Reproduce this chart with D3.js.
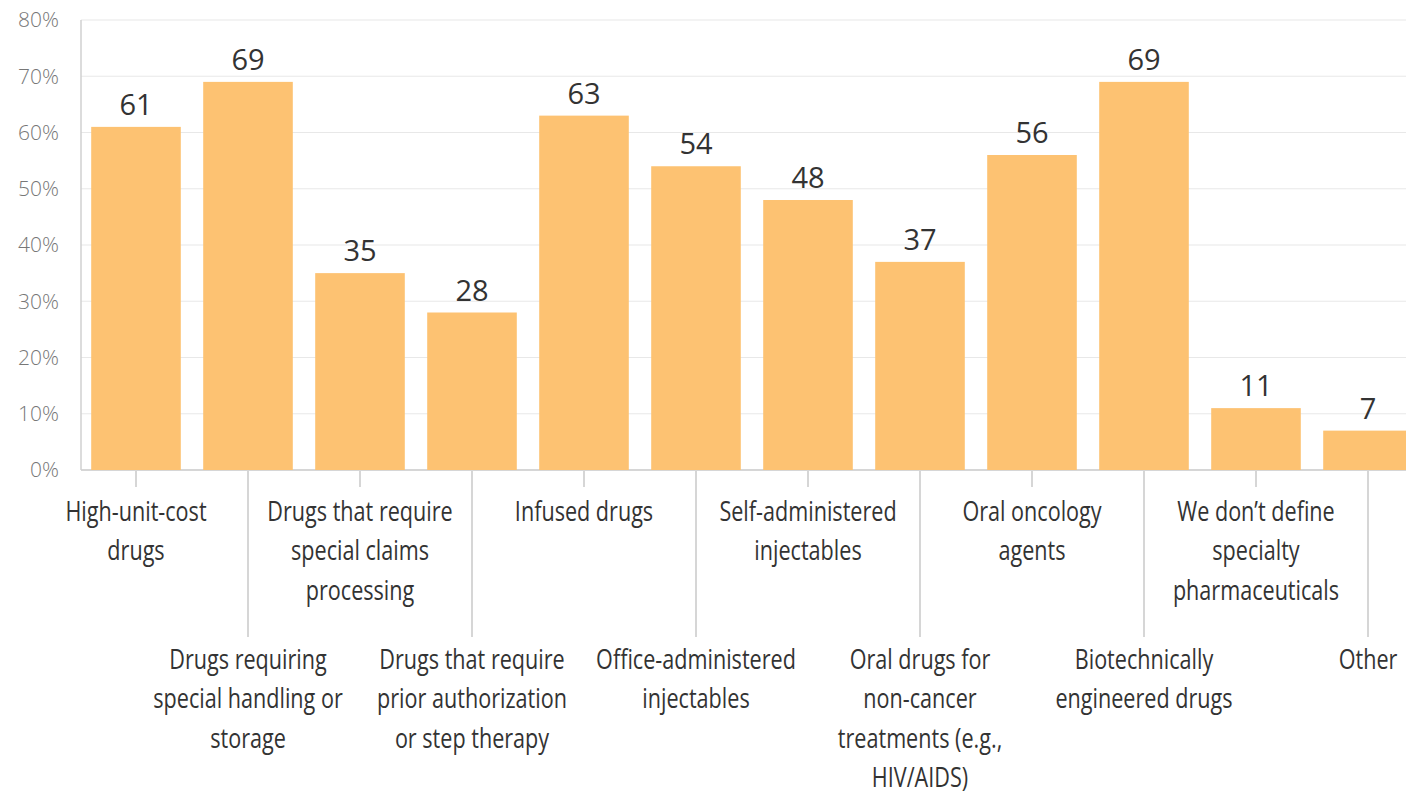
<!DOCTYPE html>
<html>
<head>
<meta charset="utf-8">
<script src="https://cdn.jsdelivr.net/npm/d3@7"></script>
<style>
  body { margin: 0; background: #fff; }
  svg { display: block; }
</style>
</head>
<body>
<div id="chart"></div>
<script>
// chart data
var categories = [
  ["High-unit-cost", "drugs"],
  ["Drugs requiring", "special handling or", "storage"],
  ["Drugs that require", "special claims", "processing"],
  ["Drugs that require", "prior authorization", "or step therapy"],
  ["Infused drugs"],
  ["Office-administered", "injectables"],
  ["Self-administered", "injectables"],
  ["Oral drugs for", "non-cancer", "treatments (e.g.,", "HIV/AIDS)"],
  ["Oral oncology", "agents"],
  ["Biotechnically", "engineered drugs"],
  ["We don\u2019t define", "specialty", "pharmaceuticals"],
  ["Other"]
];
var values = [61, 69, 35, 28, 63, 54, 48, 37, 56, 69, 11, 7];
var yTicks = [0, 10, 20, 30, 40, 50, 60, 70, 80];

var width = 1406, height = 796;
var margin = {top: 20, left: 81, bottom: 326};
var plotBottom = height - margin.bottom;

var svg = d3.select("#chart").append("svg")
  .attr("width", width)
  .attr("height", height);

var x = d3.scaleBand()
  .domain(d3.range(values.length))
  .range([80, 1424])
  .paddingInner(0.2)
  .paddingOuter(0.1);

var y = d3.scaleLinear()
  .domain([0, 80])
  .range([plotBottom, margin.top]);

// grid lines
svg.append("g")
  .selectAll("line")
  .data(yTicks)
  .enter().append("line")
  .attr("x1", margin.left)
  .attr("x2", width)
  .attr("y1", function(d) { return y(d); })
  .attr("y2", function(d) { return y(d); })
  .attr("stroke", function(d) { return d == 0 ? "#c8c8c8" : "#e8e8e8"; })
  .attr("stroke-width", function(d) { return d == 0 ? 1.5 : 1.2; });

// left axis line
svg.append("line")
  .attr("x1", margin.left).attr("x2", margin.left)
  .attr("y1", y(80)).attr("y2", y(0))
  .attr("stroke", "#d0d0d0")
  .attr("stroke-width", 1.5);

// y labels
svg.append("g")
  .selectAll("text")
  .data(yTicks)
  .enter().append("text")
  .attr("x", 59)
  .attr("y", function(d) { return y(d); })
  .attr("dy", "0.35em")
  .attr("text-anchor", "end")
  .attr("font-family", "'Open Sans', 'Noto Sans', sans-serif")
  .attr("font-weight", 300)
  .attr("font-size", 21)
  .attr("fill", "#777")
  .text(function(d) { return d + "%"; });

// bars
svg.append("g")
  .selectAll("rect")
  .data(values)
  .enter().append("rect")
  .attr("x", function(d, i) { return x(i); })
  .attr("y", function(d) { return y(d); })
  .attr("width", x.bandwidth())
  .attr("height", function(d) { return y(0) - y(d); })
  .attr("fill", "#fdc272");

// value labels
svg.append("g")
  .selectAll("text")
  .data(values)
  .enter().append("text")
  .attr("x", function(d, i) { return x(i) + x.bandwidth() / 2; })
  .attr("y", function(d) { return y(d) - 12; })
  .attr("text-anchor", "middle")
  .attr("font-family", "'Open Sans', 'Noto Sans', sans-serif")
  .attr("font-size", 29)
  .attr("fill", "#333")
  .text(function(d) { return d; });

// category labels, alternating rows with leader lines
var lineH = 39.5;
var cat = svg.append("g")
  .selectAll("g")
  .data(categories)
  .enter().append("g")
  .attr("transform", function(d, i) {
    return "translate(" + (x(i) + x.bandwidth() / 2) + ",0)";
  });

cat.append("line")
  .attr("x1", 0).attr("x2", 0)
  .attr("y1", plotBottom + 1)
  .attr("y2", function(d, i) { return i % 2 == 0 ? plotBottom + 17 : plotBottom + 167; })
  .attr("stroke", "#c8c8c8")
  .attr("stroke-width", 1.5);

// narrow face: squeeze the text horizontally
cat.append("text")
  .attr("text-anchor", "middle")
  .attr("transform", "scale(0.8,1)")
  .attr("font-family", "'Open Sans', 'Noto Sans', sans-serif")
  .attr("font-size", 27)
  .attr("fill", "#333")
  .each(function(d, i) {
    var top = i % 2 == 0 ? 521 : 669;
    d3.select(this).selectAll("tspan")
      .data(d)
      .enter().append("tspan")
      .attr("x", 0)
      .attr("y", function(t, j) { return top + j * lineH; })
      .text(function(t) { return t; });
  });
</script>
</body>
</html>
